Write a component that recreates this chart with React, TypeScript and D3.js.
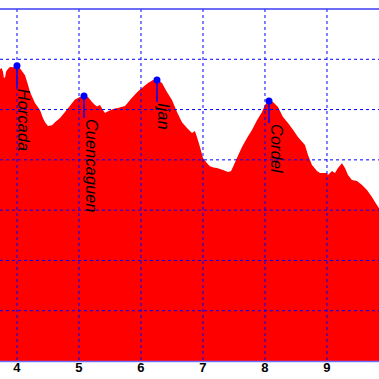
import React from "react";
import * as d3 from "d3";

const W = 379;
const H = 379;

// Distance (km) along the route
const dist = [
  3.726, 3.75, 3.774, 3.79, 3.81, 3.823, 3.85, 3.887, 3.95, 4.0, 4.06, 4.129, 4.17, 4.21, 4.29,
  4.371, 4.42, 4.452, 4.5, 4.565, 4.613, 4.694, 4.774, 4.855, 4.935, 5.016, 5.081, 5.145, 5.21,
  5.25, 5.29, 5.339, 5.38, 5.419, 5.46, 5.532, 5.58, 5.629, 5.68, 5.742, 5.78, 5.823, 5.903,
  5.95, 6.016, 6.113, 6.194, 6.258, 6.339, 6.419, 6.5, 6.581, 6.661, 6.742, 6.823, 6.87, 6.903,
  6.952, 7.0, 7.065, 7.113, 7.17, 7.226, 7.323, 7.403, 7.45, 7.484, 7.548, 7.629, 7.71, 7.79,
  7.871, 7.952, 8.0, 8.065, 8.129, 8.21, 8.29, 8.371, 8.452, 8.532, 8.645, 8.694, 8.758, 8.839,
  8.887, 9.0, 9.016, 9.081, 9.129, 9.177, 9.242, 9.29, 9.339, 9.403, 9.484, 9.565, 9.645, 9.726,
  9.774, 9.839,
];

// Elevation (m)
const elev = [
  1160, 1165, 1150, 1125, 1130, 1150, 1160, 1169, 1168, 1176, 1160, 1137, 1105, 1070, 1026,
  998, 965, 950, 935, 938, 950, 966, 990, 1015, 1040, 1050, 1057, 1050, 1030,
  1020, 1012, 1018, 1000, 986, 992, 1000, 1004, 1006, 1010, 1014, 1025, 1038, 1060,
  1072, 1086, 1106, 1118, 1121, 1106, 1070, 1038, 990, 950, 927, 907, 915, 891,
  851, 807, 787, 775, 770, 768, 760, 752, 755, 772, 807, 851, 887, 919,
  958, 990, 1018, 1037, 1030, 1010, 970, 947, 920, 891, 859, 819, 780, 756,
  748, 748, 740, 756, 748, 768, 787, 768, 740, 720, 716, 700, 680, 652,
  632, 608,
];

const peakNames = ["Horcada", "Cuencaguen", "Ijan", "Cordel"];
const peakDist = [4.0, 5.081, 6.258, 8.065];
const peakElev = [1174, 1054, 1118, 1034];

const xTicks = [4, 5, 6, 7, 8, 9];
const yTicks = [200, 400, 600, 800, 1000, 1200];

export default function App() {
  const x = d3.scaleLinear().domain([3.726, 9.839]).range([0, W]);
  const y = d3.scaleLinear().domain([0, 1400]).range([361, 9]);

  const pts: [number, number][] = dist.map((d, i) => [d, elev[i]]);
  const area = d3
    .area<[number, number]>()
    .x((d) => x(d[0]))
    .y0(y(0))
    .y1((d) => y(d[1]))
    .curve(d3.curveLinear);

  const font = "'Liberation Sans', Arial, sans-serif";

  return (
    <svg
      width={W}
      height={H}
      style={{ position: "fixed", left: 0, top: 0, background: "#fff" }}
    >
      <path d={area(pts) || ""} fill="#ff0000" />
      {/* grid */}
      {xTicks.map((t) => (
        <line
          key={"vx" + t}
          x1={x(t)}
          x2={x(t)}
          y1={y(1400)}
          y2={y(0)}
          stroke="#0000ff"
          strokeWidth={1}
          strokeDasharray="3,3"
        />
      ))}
      {yTicks.map((t) => (
        <line
          key={"hy" + t}
          x1={0}
          x2={W}
          y1={y(t)}
          y2={y(t)}
          stroke="#0000ff"
          strokeWidth={1}
          strokeDasharray="3,3"
        />
      ))}
      {/* top border */}
      <line x1={0} x2={W} y1={y(1400)} y2={y(1400)} stroke="#3b3bf0" strokeWidth={1.5} />
      {/* bottom axis */}
      <line x1={0} x2={W} y1={y(0) + 0.5} y2={y(0) + 0.5} stroke="#7070ff" strokeWidth={1.5} />
      {xTicks.map((t) => (
        <text
          key={"tx" + t}
          x={x(t)}
          y={372}
          textAnchor="middle"
          fontFamily={font}
          fontWeight="bold"
          fontSize={13}
          fill="#000"
        >
          {t}
        </text>
      ))}
      {/* peaks */}
      {peakNames.map((n, i) => {
        const px = x(peakDist[i]);
        const py = y(peakElev[i]);
        return (
          <g key={n}>
            <line x1={px} x2={px} y1={py} y2={py + 22} stroke="#0000ff" strokeWidth={1.5} />
            <circle cx={px} cy={py} r={3.5} fill="#0000ff" />
            <text
              transform={`translate(${px + 1.5},${py + 23}) rotate(90)`}
              fontFamily={font}
              fontStyle="italic"
              fontSize={16}
              letterSpacing={0.3}
              fill="#000"
            >
              {n}
            </text>
          </g>
        );
      })}
    </svg>
  );
}
